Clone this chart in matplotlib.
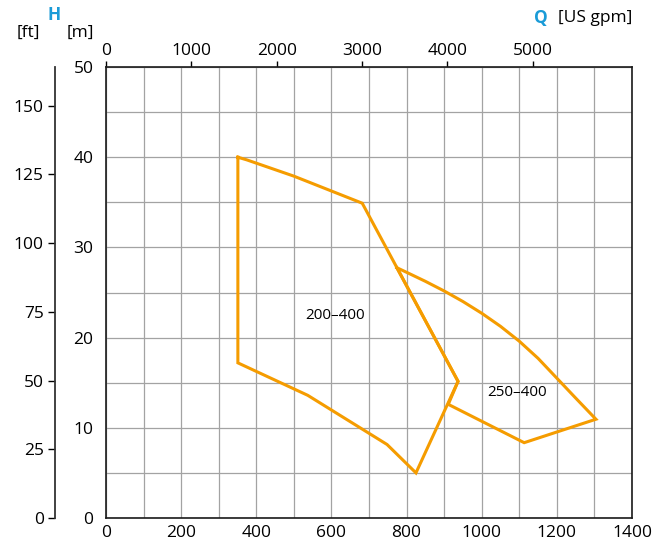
import matplotlib

matplotlib.use("Agg")
import matplotlib.pyplot as plt
import numpy as np

plt.rcParams["font.family"] = ["Open Sans", "DejaVu Sans"]

# operating ranges, flow Q in m3/h, head H in m
range_200_400_q = [351, 375, 500, 682, 937, 825, 748, 537, 351, 351]
range_200_400_h = [40.0, 39.7, 37.9, 34.9, 15.15, 5.0, 8.15, 13.6, 17.2, 40.0]

range_250_400_q = [774, 800, 850, 900, 950, 1000, 1050, 1100, 1150, 1200, 1250, 1304,
                   1113, 911, 937, 774]
range_250_400_h = [27.75, 27.24, 26.24, 25.17, 24.0, 22.7, 21.25, 19.6, 17.7, 15.5, 13.3,
                   10.95, 8.35, 12.6, 15.15, 27.75]

range_labels = ["200–400", "250–400"]
label_q = [610, 1093]
label_h = [22.4, 13.9]

q_ticks = list(range(0, 1401, 200))
h_ticks = list(range(0, 51, 10))
gpm_ticks = list(range(0, 5001, 1000))
ft_ticks = list(range(0, 151, 25))

GPM_PER_M3H = 4.402868
FT_PER_M = 3.28084

W, H = 665, 544
ORANGE = "#f59c00"
BLUE = "#1a9bd7"
GRID = "#a3a3a3"


def px(x, y):
    """Pixel position (from top-left) to figure fraction."""
    return x / W, 1 - y / H


fig = plt.figure(figsize=(W / 100, H / 100), dpi=100)
ax = fig.add_axes([106 / W, 26 / H, 526 / W, 451 / H])

ax.set_xlim(0, 1400)
ax.set_ylim(0, 50)
ax.set_xticks(q_ticks)
ax.set_xticks(np.arange(0, 1401, 100), minor=True)
ax.set_yticks(h_ticks)
ax.set_yticks(np.arange(0, 51, 5), minor=True)
ax.grid(which="both", color=GRID, lw=0.9)
ax.set_axisbelow(True)
ax.tick_params(which="both", length=0, labelsize=12.5)
ax.tick_params(axis="x", pad=5)
ax.tick_params(axis="y", pad=9)
for sp in ax.spines.values():
    sp.set_linewidth(1.2)
    sp.set_color("#1a1a1a")

ax.plot(range_200_400_q, range_200_400_h, color=ORANGE, lw=2.2, solid_joinstyle="miter")
ax.plot(range_250_400_q, range_250_400_h, color=ORANGE, lw=2.2, solid_joinstyle="miter")
for txt, q, h in zip(range_labels, label_q, label_h):
    ax.text(q, h, txt, ha="center", va="center", fontsize=11)

# US gpm on top
top = ax.secondary_xaxis(
    "top", functions=(lambda q: q * GPM_PER_M3H, lambda g: g / GPM_PER_M3H)
)
top.set_xticks(gpm_ticks)
top.tick_params(length=4, width=1, pad=2, labelsize=12.5)
top.spines["top"].set_visible(False)

# feet on a detached left axis
ax_ft = ax.twinx()
ax_ft.set_ylim(0, 50 * FT_PER_M)
ax_ft.spines["left"].set_position(("axes", -(106 - 55) / 526))
ax_ft.spines["left"].set_linewidth(1.3)
ax_ft.spines["left"].set_color("#333333")
for side in ("right", "top", "bottom"):
    ax_ft.spines[side].set_visible(False)
ax_ft.yaxis.set_ticks_position("left")
ax_ft.yaxis.set_label_position("left")
ax_ft.set_yticks(ft_ticks)
ax_ft.tick_params(length=5, width=1, pad=3, labelsize=12.5)

fig.text(*px(54, 15), "H", color=BLUE, fontsize=12.5, fontweight="bold",
         ha="center", va="center")
fig.text(*px(28.5, 33), "[ft]", fontsize=12.5, ha="center", va="center")
fig.text(*px(80.5, 33), "[m]", fontsize=12.5, ha="center", va="center")
fig.text(*px(548, 18), "Q", color=BLUE, fontsize=12.5, fontweight="bold",
         ha="right", va="center")
fig.text(*px(632, 18), "[US gpm]", fontsize=12.5, ha="right", va="center")

fig.savefig("out.png", dpi=100)
plt.close(fig)
